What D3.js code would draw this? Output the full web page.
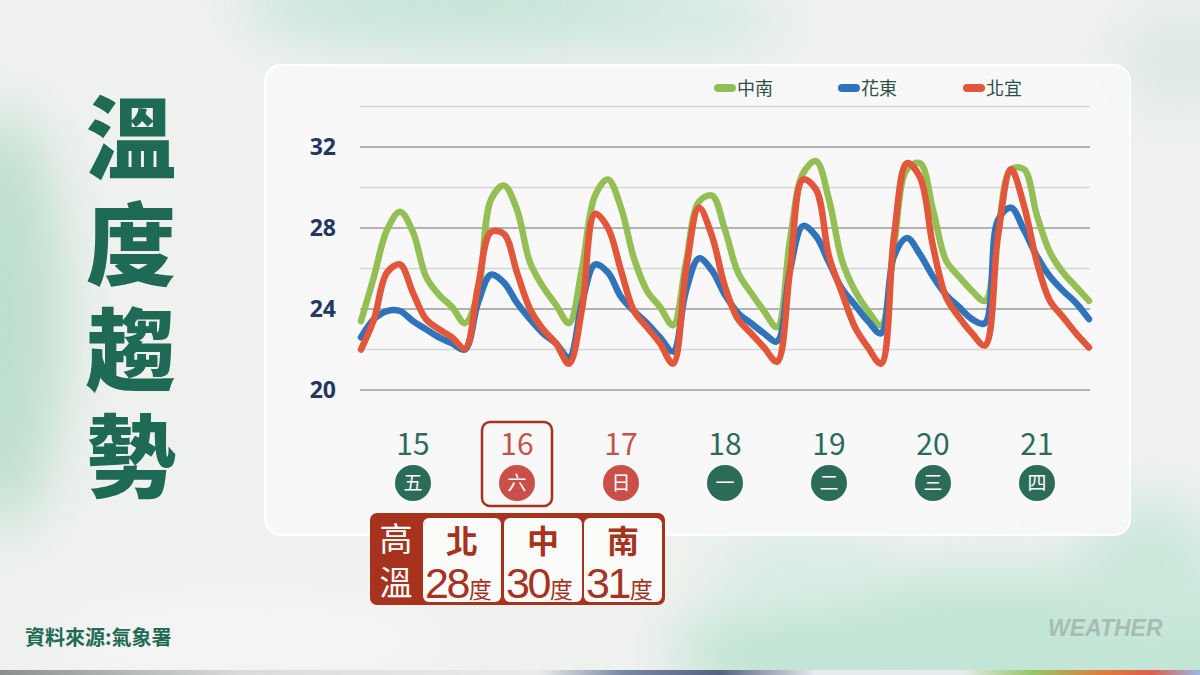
<!DOCTYPE html>
<html>
<head>
<meta charset="utf-8">
<script src="https://cdn.jsdelivr.net/npm/d3@7"></script>
<style>
  html, body { margin: 0; padding: 0; background: #eef1ef; }
  svg { display: block; }
</style>
</head>
<body>
<svg id="chart" width="1200" height="675"></svg>
<script>
// ---------- data ----------
const days = ["15", "16", "17", "18", "19", "20", "21"];
const weekdays = ["五", "六", "日", "一", "二", "三", "四"];
const weekendDays = ["16", "17"];
const yTicks = [20, 24, 28, 32];
const gridValues = [20, 22, 24, 26, 28, 30, 32, 34];
const seriesNames = ["中南", "花東", "北宜"];
const seriesColors = ["#94bf54", "#2f74bb", "#e2563c"];
// 3-hourly values, 15th to 21st
const central = [23.4, 25.6, 27.9, 28.8, 27.8, 25.6, 24.7, 24.1, 23.3,
  24.8, 29.4, 30.1, 28.9, 26.3, 25.1, 24.2, 23.3,
  26.0, 29.6, 30.4, 29.0, 26.5, 24.9, 24.1, 23.2,
  26.3, 29.3, 29.6, 27.9, 25.8, 24.8, 23.9, 23.1,
  27.4, 30.7, 31.3, 29.4, 26.4, 24.9, 23.9, 23.2,
  27.1, 30.9, 31.2, 28.9, 26.4, 25.6, 24.9, 24.4,
  27.9, 30.9, 30.9, 28.6, 26.8, 25.8, 25.1, 24.4];
const east = [22.6, 23.5, 23.9, 23.9, 23.4, 23.0, 22.6, 22.3, 22.0,
  24.3, 25.7, 25.3, 24.3, 23.5, 22.8, 22.3, 21.6,
  24.3, 26.2, 25.8, 24.6, 23.9, 23.3, 22.6, 21.9,
  24.9, 26.5, 25.9, 24.7, 23.8, 23.3, 22.8, 22.4,
  25.9, 28.1, 27.6, 26.3, 25.0, 24.2, 23.4, 22.8,
  26.6, 27.5, 26.7, 25.6, 24.7, 24.1, 23.5, 23.3,
  28.4, 29.0, 27.9, 26.6, 25.6, 24.9, 24.3, 23.5];
const north = [22.0, 23.5, 25.8, 26.2, 24.8, 23.5, 23.0, 22.6, 22.05,
  25.1, 27.8, 27.7, 25.8, 24.0, 23.0, 22.3, 21.3,
  24.0, 28.7, 28.0, 25.9, 23.9, 23.1, 22.3, 21.3,
  25.9, 29.0, 27.6, 25.1, 23.5, 22.8, 22.1, 21.4,
  25.9, 30.4, 29.9, 26.6, 24.8, 23.1, 22.1, 21.3,
  27.6, 31.2, 30.5, 27.1, 24.6, 23.6, 22.8, 22.2,
  27.6, 30.9, 29.1, 26.3, 24.4, 23.6, 22.8, 22.1];
const highRegions = ["北", "中", "南"];
const highValues = [28, 30, 31];
const titleText = "溫度趨勢";
const sourceText = "資料來源:氣象署";

// ---------- setup ----------
const svg = d3.select("#chart");
const CJK = "'Noto Sans CJK TC', 'Noto Sans CJK SC', sans-serif";
const defs = svg.append("defs");
const blur = defs.append("filter").attr("id", "blur").attr("x", "-50%").attr("y", "-50%").attr("width", "200%").attr("height", "200%");
blur.append("feGaussianBlur").attr("stdDeviation", 28);

// background
svg.append("rect").attr("width", 1200).attr("height", 675).attr("fill", "#eff1ef");
const bg = svg.append("g");
[
  {cx: 470, cy: 5, rx: 230, ry: 45, c: "#c6e5d8"},
  {cx: 700, cy: 20, rx: 80, ry: 30, c: "#d2eadf"},
  {cx: 5, cy: 320, rx: 60, ry: 210, c: "#bedfce"},
  {cx: 1000, cy: 655, rx: 330, ry: 85, c: "#c2e5d5"},
  {cx: 1150, cy: 570, rx: 70, ry: 70, c: "#c9e7da"},
  {cx: 800, cy: 570, rx: 90, ry: 30, c: "#d6ece2"},
  {cx: 250, cy: 640, rx: 200, ry: 40, c: "#f4f5f4"},
  {cx: 1180, cy: 60, rx: 60, ry: 50, c: "#dde9e3"}
].forEach(d => bg.append("ellipse").attr("cx", d.cx).attr("cy", d.cy).attr("rx", d.rx).attr("ry", d.ry)
  .attr("fill", d.c).attr("filter", "url(#blur)"));

// bottom strip
const grad = defs.append("linearGradient").attr("id", "strip");
[[0, "#8a8f8e"], [0.2, "#d9dcdb"], [0.45, "#e9ebea"], [0.52, "#7a87a3"], [0.6, "#56627f"], [0.68, "#e8ecee"],
 [0.8, "#e8ecee"], [0.86, "#98c46a"], [0.92, "#e07b3c"], [0.96, "#dd6050"], [1, "#9ab8e6"]]
  .forEach(s => grad.append("stop").attr("offset", s[0]).attr("stop-color", s[1]));
svg.append("rect").attr("x", 0).attr("y", 670).attr("width", 1200).attr("height", 5).attr("fill", "url(#strip)");

// panel
svg.append("rect").attr("x", 265).attr("y", 65).attr("width", 865).attr("height", 470).attr("rx", 16)
  .attr("fill", "#f7f8f7").attr("fill-opacity", 0.9).attr("stroke", "#ffffff").attr("stroke-width", 2);

// ---------- scales ----------
const x = d3.scaleLinear().domain([0, central.length - 1]).range([361, 1089]);
const y = d3.scaleLinear().domain([20, 32]).range([390, 147]);
const xDay = d3.scaleBand().domain(days).range([361, 1089]);

// grid
svg.append("g").selectAll("line").data(gridValues).join("line")
  .attr("x1", 360).attr("x2", 1090)
  .attr("y1", d => y(d)).attr("y2", d => y(d))
  .attr("stroke", d => yTicks.includes(d) ? "#9a9c9c" : "#d3d5d5")
  .attr("stroke-width", 1.6);

// y axis labels
const yAxis = d3.axisLeft(y).tickValues(yTicks).tickSize(0).tickPadding(0);
const yg = svg.append("g").attr("transform", "translate(336,0)").call(yAxis);
yg.select(".domain").remove();
yg.selectAll("text").attr("font-family", "'Open Sans', 'Noto Sans', sans-serif").attr("font-weight", 700)
  .attr("font-size", 23).attr("fill", "#22385e");

// lines
const line = d3.line().x((d, i) => x(i)).y(d => y(d)).curve(d3.curveCatmullRom.alpha(0.5));
[central, east, north].forEach((s, k) => {
  svg.append("path").attr("d", line(s)).attr("fill", "none").attr("stroke", seriesColors[k])
    .attr("stroke-width", 6.5).attr("stroke-linecap", "round").attr("stroke-linejoin", "round");
});

// legend
const legendX = [714, 838, 963];
seriesNames.forEach((n, k) => {
  svg.append("rect").attr("x", legendX[k]).attr("y", 84).attr("width", 22).attr("height", 8).attr("rx", 4)
    .attr("fill", seriesColors[k]);
  svg.append("text").attr("x", legendX[k] + 23).attr("y", 95).text(n)
    .attr("font-family", CJK).attr("font-size", 18).attr("fill", "#2d4f47");
});

// day labels
const dayG = svg.append("g");
days.forEach((d, i) => {
  const cx = xDay(d) + xDay.bandwidth() / 2;
  const weekend = weekendDays.includes(d);
  dayG.append("text").attr("x", cx).attr("y", 455).attr("text-anchor", "middle").text(d)
    .attr("font-family", CJK).attr("font-size", 30)
    .attr("fill", weekend ? "#c4544a" : "#2e6a5c");
  dayG.append("circle").attr("cx", cx).attr("cy", 483).attr("r", 18)
    .attr("fill", weekend ? "#c94f48" : "#2c6b58");
  dayG.append("text").attr("x", cx).attr("y", 490).attr("text-anchor", "middle").text(weekdays[i])
    .attr("font-family", CJK).attr("font-size", 19).attr("fill", "#ffffff");
  if (d === "16") {
    dayG.append("rect").attr("x", cx - 35).attr("y", 422).attr("width", 70).attr("height", 84).attr("rx", 8)
      .attr("fill", "none").attr("stroke", "#a8321f").attr("stroke-width", 2.5);
  }
});

// title: one vertical text
svg.append("text").attr("x", 131).attr("y", 93).text(titleText)
  .style("writing-mode", "vertical-rl").style("text-orientation", "upright")
  .attr("letter-spacing", 16)
  .attr("font-family", CJK).attr("font-weight", 900).attr("font-size", 90).attr("fill", "#1f6a55");

// high temp box
const hb = svg.append("g");
hb.append("rect").attr("x", 370).attr("y", 513).attr("width", 295).attr("height", 92).attr("rx", 7).attr("fill", "#a7331f");
hb.append("text").attr("x", 396).attr("y", 551).attr("text-anchor", "middle").text("高")
  .attr("font-family", CJK).attr("font-size", 33).attr("fill", "#ffffff");
hb.append("text").attr("x", 396).attr("y", 595).attr("text-anchor", "middle").text("溫")
  .attr("font-family", CJK).attr("font-size", 33).attr("fill", "#ffffff");
const cellX = [423, 504, 584];
highRegions.forEach((r, i) => {
  hb.append("rect").attr("x", cellX[i]).attr("y", 518).attr("width", 78).attr("height", 84).attr("rx", 6).attr("fill", "#fbfbfa");
  hb.append("text").attr("x", cellX[i] + 39).attr("y", 553).attr("text-anchor", "middle").text(r)
    .attr("font-family", CJK).attr("font-weight", 700).attr("font-size", 32).attr("fill", "#a7331f");
  const t = hb.append("text").attr("x", cellX[i] + 2).attr("y", 598).attr("fill", "#a7331f");
  t.append("tspan").text(highValues[i]).attr("font-family", "'Liberation Sans', Arial, sans-serif")
    .attr("font-size", 43).attr("letter-spacing", -2.5);
  t.append("tspan").text("度").attr("font-family", CJK).attr("font-size", 23).attr("dx", 1);
});

// source
svg.append("text").attr("x", 25).attr("y", 645).text(sourceText)
  .attr("font-family", CJK).attr("font-weight", 700).attr("font-size", 20).attr("fill", "#1f6a55");

// watermark
svg.append("text").attr("x", 1048).attr("y", 636).text("WEATHER")
  .attr("font-family", "'Liberation Sans', Arial, sans-serif").attr("font-weight", 700).attr("font-style", "italic")
  .attr("font-size", 23).attr("fill", "#98aba2").attr("fill-opacity", 0.7);
</script>
</body>
</html>
